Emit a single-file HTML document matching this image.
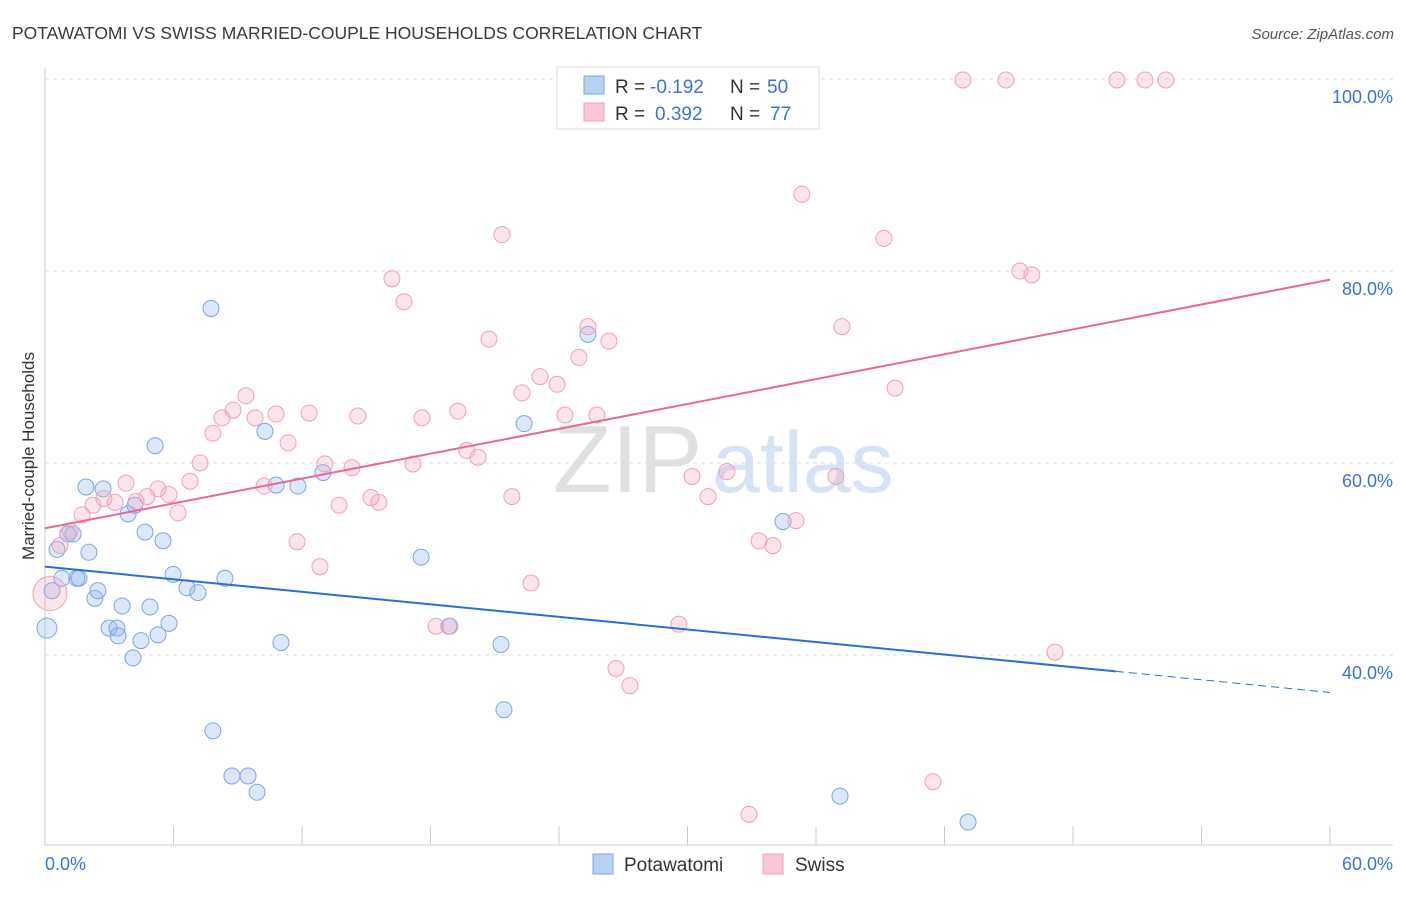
<!DOCTYPE html>
<html><head><meta charset="utf-8"><style>
body{margin:0;background:#fff;font-family:"Liberation Sans",sans-serif;}
svg text{font-family:"Liberation Sans",sans-serif;}
</style></head><body>
<svg id="chart" width="1406" height="892" xmlns="http://www.w3.org/2000/svg">
<text x="12" y="39" font-size="17.5" fill="#3a3a3a">POTAWATOMI VS SWISS MARRIED-COUPLE HOUSEHOLDS CORRELATION CHART</text>
<text x="1394" y="39" font-size="15" fill="#555" text-anchor="end" font-style="italic">Source: ZipAtlas.com</text>
<g>
<text x="553" y="492" font-size="96" fill="#e0e0e0" font-family="Liberation Serif, serif">ZIP</text>
<text x="712" y="492" font-size="86" fill="#d5e3f5">atlas</text>
</g>
<g id="grid"></g>
<g id="axes"></g>
<g id="marks"></g>
<text transform="translate(34,456) rotate(-90)" font-size="17" fill="#333" text-anchor="middle">Married-couple Households</text>
<text x="45" y="870" font-size="18" fill="#3b73d9">0.0%</text>
<text x="1393" y="870" font-size="18" fill="#3b73d9" text-anchor="end">60.0%</text>
<g>
<rect x="557" y="67" width="262" height="62" fill="#fff" stroke="#ddd"/>
<rect x="584" y="76" width="20" height="18" fill="#b8d1f3" stroke="#7aa6e6"/>
<rect x="584" y="103" width="20" height="18" fill="#f8c6d6" stroke="#f0a0bc"/>
<text x="615" y="93" font-size="19" fill="#333">R =</text>
<text x="650" y="93" font-size="19" fill="#3b73d9">-0.192</text>
<text x="730" y="93" font-size="19" fill="#333">N =</text>
<text x="767" y="93" font-size="19" fill="#3b73d9">50</text>
<text x="615" y="120" font-size="19" fill="#333">R =</text>
<text x="655" y="120" font-size="19" fill="#3b73d9">0.392</text>
<text x="730" y="120" font-size="19" fill="#333">N =</text>
<text x="770" y="120" font-size="19" fill="#3b73d9">77</text>
</g>
<g>
<rect x="593" y="854" width="20" height="20" fill="#b8d1f3" stroke="#7aa6e6"/>
<text x="624" y="871" font-size="19" fill="#333">Potawatomi</text>
<rect x="763" y="854" width="20" height="20" fill="#f8c6d6" stroke="#f0a0bc"/>
<text x="795" y="871" font-size="19" fill="#333">Swiss</text>
</g>
</svg>
<script>
const yTicks=[40,60,80,100];
const xTicks=[0,6,12,18,24,30,36,42,48,54,60];
const blueX=[0.09,0.33,0.56,0.79,1.07,1.49,1.91,2.05,2.33,2.47,2.71,2.99,3.36,3.41,3.60,3.88,4.11,4.20,4.48,4.67,4.90,5.14,5.28,5.51,5.79,5.98,6.63,7.14,7.75,7.84,8.40,8.73,9.48,9.90,10.27,10.79,11.02,11.81,12.98,17.56,18.86,21.29,21.43,22.37,25.35,34.46,37.12,43.10,1.59,1.31];
const blueY=[42.8,46.7,51.0,48.0,52.6,48.0,57.5,50.7,45.9,46.7,57.3,42.8,42.8,42.0,45.1,54.7,39.7,55.6,41.5,52.8,45.0,61.8,42.1,51.9,43.3,48.4,47.0,46.5,76.1,32.1,48.0,27.4,27.4,25.7,63.3,57.7,41.3,57.6,59.0,50.2,43.0,41.1,34.3,64.1,73.4,53.9,25.3,22.6,48.0,52.6];
const pinkX=[0.23,0.70,1.17,1.73,2.24,2.75,3.27,3.78,4.25,4.76,5.28,5.79,6.21,6.77,7.24,7.84,8.26,8.78,9.38,9.81,10.23,10.79,11.35,11.77,12.33,12.84,13.07,13.73,14.33,14.61,15.22,15.59,16.20,16.76,17.18,17.60,18.26,18.91,19.28,19.70,20.22,20.73,21.34,21.80,22.69,22.27,23.11,23.91,24.28,24.93,25.35,25.77,26.33,26.66,27.31,29.60,30.21,30.96,31.84,32.87,33.34,33.99,35.06,35.34,36.93,37.21,39.17,39.69,41.46,42.86,44.87,45.52,46.08,47.16,50.05,51.36,52.34];
const pinkY=[46.4,51.4,52.9,54.6,55.6,56.3,55.9,57.9,56.0,56.5,57.3,56.7,54.8,58.1,60.0,63.1,64.7,65.5,67.0,64.7,57.6,65.1,62.1,51.8,65.2,49.2,59.9,55.6,59.5,64.9,56.4,55.9,79.2,76.8,59.9,64.7,43.0,43.0,65.4,61.3,60.6,72.9,83.8,56.5,47.5,67.3,69.0,68.2,65.0,71.0,74.2,65.0,72.7,38.6,36.8,43.2,58.6,56.5,59.1,23.4,51.9,51.4,54.0,88.0,58.6,74.2,83.4,67.8,26.8,99.9,99.9,80.0,79.6,40.3,99.9,99.9,99.9];
const blueTrend=[49.2,38.3,36.1]; // at x=0, 50, 60
const pinkTrend=[53.2,79.1]; // at x=0, 60
const NS="http://www.w3.org/2000/svg";
const sx=v=>45+v/60*1285;
const sy=v=>1039-v*9.6;
function mk(tag,attrs,parent){const e=document.createElementNS(NS,tag);for(const k in attrs)e.setAttribute(k,attrs[k]);parent.appendChild(e);return e;}
const grid=document.getElementById('grid'),axes=document.getElementById('axes'),marks=document.getElementById('marks');
yTicks.forEach(t=>{
 const l=mk('line',{x1:45,x2:1393,y1:sy(t),y2:sy(t),stroke:'#ddd','stroke-dasharray':'4,4'},grid);
 
 
 const tx=mk('text',{x:1393,y:sy(t)+24,'font-size':18,fill:'#3b73d9','text-anchor':'end'},grid);
 tx.textContent=t.toFixed(1)+'%';
 
 
});
const xa=mk('line',{x1:45,x2:1393,y1:845,y2:845,stroke:'#ccc'},axes);


const ya=mk('line',{x1:45,x2:45,y1:68,y2:845,stroke:'#ccc'},axes);


xTicks.forEach(t=>{
 const l=mk('line',{x1:sx(t),x2:sx(t),y1:826,y2:845,stroke:'#ccc'},axes);
 
 
});
blueX.forEach((x,i)=>{
 const c=mk('circle',{cx:sx(x),cy:sy(blueY[i]),r:i===0?10:8,fill:'rgba(140,180,240,0.3)',stroke:'#7aa6e6','stroke-width':1},marks);
 
 
});
pinkX.forEach((x,i)=>{
 const c=mk('circle',{cx:sx(x),cy:sy(pinkY[i]),r:i===0?17:8,fill:'rgba(245,165,190,0.3)',stroke:'#f0a0bc','stroke-width':1},marks);
 
 
});
const bl=mk('line',{x1:sx(0),y1:sy(blueTrend[0]),x2:sx(50),y2:sy(blueTrend[1]),stroke:'#2a6fd6','stroke-width':2},marks);


const bd=mk('line',{x1:sx(50),y1:sy(blueTrend[1]),x2:sx(60),y2:sy(blueTrend[2]),stroke:'#2a6fd6','stroke-width':1,'stroke-dasharray':'8,5'},marks);


const pl=mk('line',{x1:sx(0),y1:sy(pinkTrend[0]),x2:sx(60),y2:sy(pinkTrend[1]),stroke:'#e8689a','stroke-width':2},marks);


</script>
</body></html>
